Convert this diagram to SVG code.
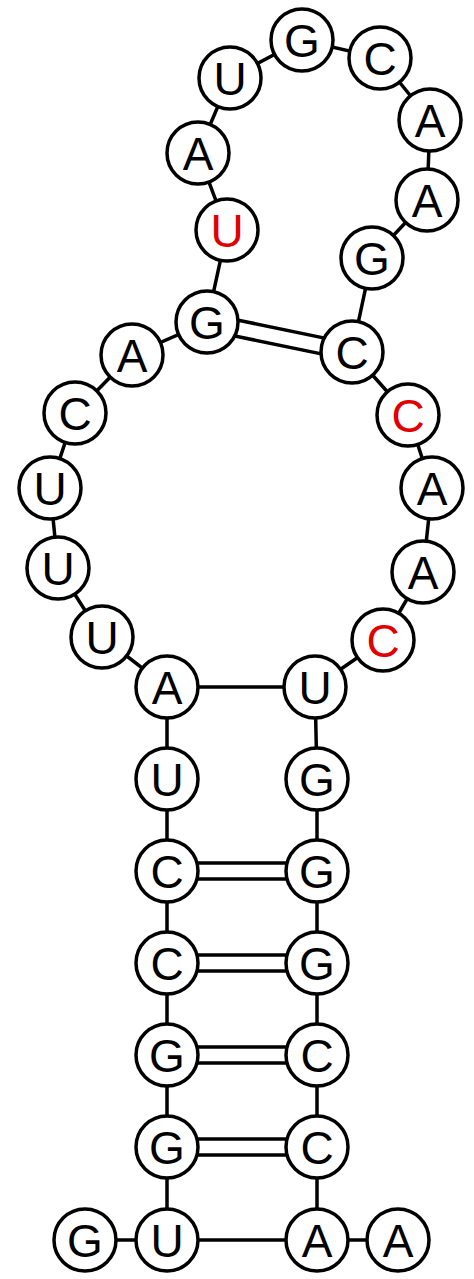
<svg xmlns="http://www.w3.org/2000/svg" width="474" height="1279" viewBox="0 0 474 1279">
<style>
.n circle{fill:#fff;stroke:#000;stroke-width:3.5}
.n text{font-family:"Liberation Sans",Arial,sans-serif;font-size:46px;text-anchor:middle;fill:#000}
.n text.r{fill:#e00000}
#connectors line,#connectors polyline{stroke:#000;stroke-width:3.5;fill:none}
</style>
<rect width="474" height="1279" fill="#fff"/>
<g id="connectors">
<polyline id="backbone" points="85,1240 167,1240 167,1147 167,1055 167,963 167,871 167,779 167,687 102,637 58,568 50,488 75,413 132,355 207,322 227,230 198,153 230,78 302,40 380,58 430,120 427,200 372,258 352,352 408,415 432,488 423,572 383,640 315,687 317,779 317,871 317,963 317,1055 317,1147 317,1240 398,1240"/>
<line x1="167" y1="687" x2="315" y2="687"/>
<line x1="167" y1="1240" x2="317" y2="1240"/>
<line x1="167" y1="863" x2="317" y2="863"/>
<line x1="167" y1="879" x2="317" y2="879"/>
<line x1="167" y1="955" x2="317" y2="955"/>
<line x1="167" y1="971" x2="317" y2="971"/>
<line x1="167" y1="1047" x2="317" y2="1047"/>
<line x1="167" y1="1063" x2="317" y2="1063"/>
<line x1="167" y1="1139" x2="317" y2="1139"/>
<line x1="167" y1="1155" x2="317" y2="1155"/>
<line x1="208.6" y1="314.1" x2="353.6" y2="344.1"/>
<line x1="205.4" y1="329.9" x2="350.4" y2="359.9"/>
</g>
<g id="n1" class="n"><circle cx="85" cy="1240" r="31"/><text x="85" y="1257">G</text></g>
<g id="n2" class="n"><circle cx="167" cy="1240" r="31"/><text x="167" y="1257">U</text></g>
<g id="n3" class="n"><circle cx="167" cy="1147" r="31"/><text x="167" y="1164">G</text></g>
<g id="n4" class="n"><circle cx="167" cy="1055" r="31"/><text x="167" y="1072">G</text></g>
<g id="n5" class="n"><circle cx="167" cy="963" r="31"/><text x="167" y="980">C</text></g>
<g id="n6" class="n"><circle cx="167" cy="871" r="31"/><text x="167" y="888">C</text></g>
<g id="n7" class="n"><circle cx="167" cy="779" r="31"/><text x="167" y="796">U</text></g>
<g id="n8" class="n"><circle cx="167" cy="687" r="31"/><text x="167" y="704">A</text></g>
<g id="n9" class="n"><circle cx="102" cy="637" r="31"/><text x="102" y="654">U</text></g>
<g id="n10" class="n"><circle cx="58" cy="568" r="31"/><text x="58" y="585">U</text></g>
<g id="n11" class="n"><circle cx="50" cy="488" r="31"/><text x="50" y="505">U</text></g>
<g id="n12" class="n"><circle cx="75" cy="413" r="31"/><text x="75" y="430">C</text></g>
<g id="n13" class="n"><circle cx="132" cy="355" r="31"/><text x="132" y="372">A</text></g>
<g id="n14" class="n"><circle cx="207" cy="322" r="31"/><text x="207" y="339">G</text></g>
<g id="n15" class="n"><circle cx="227" cy="230" r="31"/><text class="r" x="227" y="247">U</text></g>
<g id="n16" class="n"><circle cx="198" cy="153" r="31"/><text x="198" y="170">A</text></g>
<g id="n17" class="n"><circle cx="230" cy="78" r="31"/><text x="230" y="95">U</text></g>
<g id="n18" class="n"><circle cx="302" cy="40" r="31"/><text x="302" y="57">G</text></g>
<g id="n19" class="n"><circle cx="380" cy="58" r="31"/><text x="380" y="75">C</text></g>
<g id="n20" class="n"><circle cx="430" cy="120" r="31"/><text x="430" y="137">A</text></g>
<g id="n21" class="n"><circle cx="427" cy="200" r="31"/><text x="427" y="217">A</text></g>
<g id="n22" class="n"><circle cx="372" cy="258" r="31"/><text x="372" y="275">G</text></g>
<g id="n23" class="n"><circle cx="352" cy="352" r="31"/><text x="352" y="369">C</text></g>
<g id="n24" class="n"><circle cx="408" cy="415" r="31"/><text class="r" x="408" y="432">C</text></g>
<g id="n25" class="n"><circle cx="432" cy="488" r="31"/><text x="432" y="505">A</text></g>
<g id="n26" class="n"><circle cx="423" cy="572" r="31"/><text x="423" y="589">A</text></g>
<g id="n27" class="n"><circle cx="383" cy="640" r="31"/><text class="r" x="383" y="657">C</text></g>
<g id="n28" class="n"><circle cx="315" cy="687" r="31"/><text x="315" y="704">U</text></g>
<g id="n29" class="n"><circle cx="317" cy="779" r="31"/><text x="317" y="796">G</text></g>
<g id="n30" class="n"><circle cx="317" cy="871" r="31"/><text x="317" y="888">G</text></g>
<g id="n31" class="n"><circle cx="317" cy="963" r="31"/><text x="317" y="980">G</text></g>
<g id="n32" class="n"><circle cx="317" cy="1055" r="31"/><text x="317" y="1072">C</text></g>
<g id="n33" class="n"><circle cx="317" cy="1147" r="31"/><text x="317" y="1164">C</text></g>
<g id="n34" class="n"><circle cx="317" cy="1240" r="31"/><text x="317" y="1257">A</text></g>
<g id="n35" class="n"><circle cx="398" cy="1240" r="31"/><text x="398" y="1257">A</text></g>
</svg>
